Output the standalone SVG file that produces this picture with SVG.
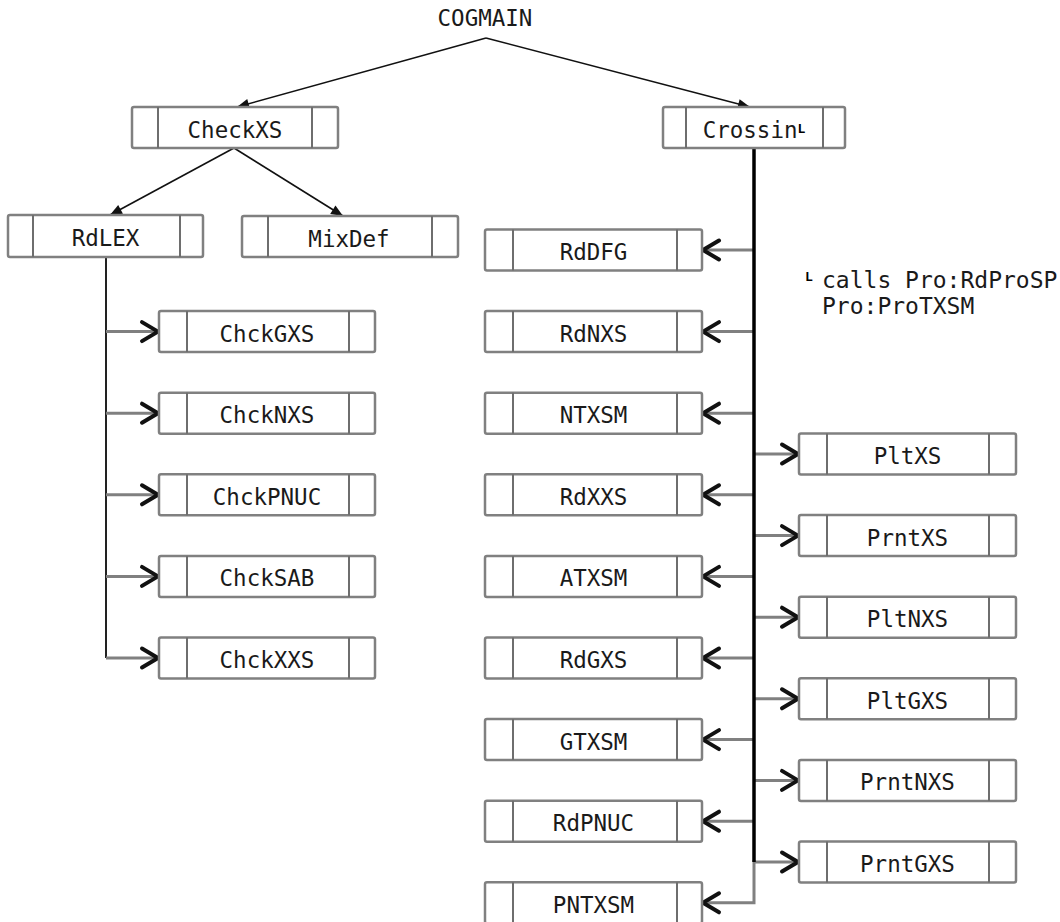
<svg xmlns="http://www.w3.org/2000/svg" width="1060" height="922" viewBox="0 0 1060 922">
<defs>
<style>
.box rect{fill:#fff;stroke:#808080;stroke-width:2.5}
.box line{stroke:#6e6e6e;stroke-width:2}
.lbl{font-family:"DejaVu Sans Mono","Liberation Mono",monospace;font-size:22.5px;fill:#1a1a1a;text-anchor:middle}
.note{font-family:"DejaVu Sans Mono","Liberation Mono",monospace;font-size:23px;fill:#1a1a1a}
.mark{font-size:13px;font-weight:bold;fill:#000}
.tree{stroke:#111;stroke-width:1.6;fill:none}
.vert{stroke:#222;stroke-width:2;fill:none}
.hook{stroke:#808080;stroke-width:3;fill:none}
.trunk{stroke:#000;stroke-width:3.5;fill:none}
marker{overflow:visible}
</style>
<marker id="chev" viewBox="0 0 22 22" refX="20" refY="11" markerWidth="22" markerHeight="22" markerUnits="userSpaceOnUse" orient="auto">
<path d="M3,1.5 L19,11 L3,20.5" fill="none" stroke="#111" stroke-width="4" stroke-linejoin="round" stroke-linecap="round"/>
</marker>
<marker id="tri" viewBox="0 0 12 10" refX="12" refY="5" markerWidth="12" markerHeight="10" markerUnits="userSpaceOnUse" orient="auto">
<path d="M0,0 L12,5 L0,10 z" fill="#111"/>
</marker>
</defs>
<rect width="1060" height="922" fill="#fff"/>

<g id="connectors">
<path class="tree" d="M486,38 L237,107" marker-end="url(#tri)"/>
<path class="tree" d="M486,38 L750,107" marker-end="url(#tri)"/>
<path class="tree" d="M234,148 L110,215" marker-end="url(#tri)"/>
<path class="tree" d="M234,148 L343,216" marker-end="url(#tri)"/>
<path class="vert" d="M106,257 V658"/>
<path class="hook" d="M106,331.6 H159" marker-end="url(#chev)"/>
<path class="hook" d="M106,413.2 H159" marker-end="url(#chev)"/>
<path class="hook" d="M106,494.8 H159" marker-end="url(#chev)"/>
<path class="hook" d="M106,576.4 H159" marker-end="url(#chev)"/>
<path class="hook" d="M106,658 H159" marker-end="url(#chev)"/>
<path class="hook" d="M754,250 H702" marker-end="url(#chev)"/>
<path class="hook" d="M754,331.6 H702" marker-end="url(#chev)"/>
<path class="hook" d="M754,413.2 H702" marker-end="url(#chev)"/>
<path class="hook" d="M754,494.8 H702" marker-end="url(#chev)"/>
<path class="hook" d="M754,576.4 H702" marker-end="url(#chev)"/>
<path class="hook" d="M754,658 H702" marker-end="url(#chev)"/>
<path class="hook" d="M754,739.6 H702" marker-end="url(#chev)"/>
<path class="hook" d="M754,821.2 H702" marker-end="url(#chev)"/>
<path class="hook" d="M754,860 V902.8 H702" marker-end="url(#chev)"/>
<path class="hook" d="M754,454 H799" marker-end="url(#chev)"/>
<path class="hook" d="M754,535.6 H799" marker-end="url(#chev)"/>
<path class="hook" d="M754,617.2 H799" marker-end="url(#chev)"/>
<path class="hook" d="M754,698.8 H799" marker-end="url(#chev)"/>
<path class="hook" d="M754,780.4 H799" marker-end="url(#chev)"/>
<path class="hook" d="M754,862 H799" marker-end="url(#chev)"/>
<path class="trunk" d="M754,148 V862"/>
</g>

<g id="n-COGMAIN"><text class="lbl" x="485" y="26">COGMAIN</text></g>

<g id="n-CheckXS" class="box"><rect x="132" y="107" width="206" height="41" rx="2"/><line x1="158" y1="107" x2="158" y2="148"/><line x1="312" y1="107" x2="312" y2="148"/><text class="lbl" x="235" y="137.5">CheckXS</text></g>
<g id="n-Crossin" class="box"><rect x="663" y="107" width="182" height="41" rx="2"/><line x1="686" y1="107" x2="686" y2="148"/><line x1="823" y1="107" x2="823" y2="148"/><text class="lbl" x="754" y="137.5">Crossin<tspan class="mark" dy="-5">L</tspan></text></g>
<g id="n-RdLEX" class="box"><rect x="8" y="215" width="195" height="42" rx="2"/><line x1="33" y1="215" x2="33" y2="257"/><line x1="180" y1="215" x2="180" y2="257"/><text class="lbl" x="105.5" y="246">RdLEX</text></g>
<g id="n-MixDef" class="box"><rect x="242" y="216" width="216" height="41" rx="2"/><line x1="268" y1="216" x2="268" y2="257"/><line x1="432" y1="216" x2="432" y2="257"/><text class="lbl" x="349" y="246.5">MixDef</text></g>

<g id="n-ChckGXS" class="box"><rect x="159" y="311.1" width="216" height="41" rx="2"/><line x1="187" y1="311.1" x2="187" y2="352.1"/><line x1="349" y1="311.1" x2="349" y2="352.1"/><text class="lbl" x="267" y="341.6">ChckGXS</text></g>
<g id="n-ChckNXS" class="box"><rect x="159" y="392.7" width="216" height="41" rx="2"/><line x1="187" y1="392.7" x2="187" y2="433.7"/><line x1="349" y1="392.7" x2="349" y2="433.7"/><text class="lbl" x="267" y="423.2">ChckNXS</text></g>
<g id="n-ChckPNUC" class="box"><rect x="159" y="474.3" width="216" height="41" rx="2"/><line x1="187" y1="474.3" x2="187" y2="515.3"/><line x1="349" y1="474.3" x2="349" y2="515.3"/><text class="lbl" x="267" y="504.8">ChckPNUC</text></g>
<g id="n-ChckSAB" class="box"><rect x="159" y="555.9" width="216" height="41" rx="2"/><line x1="187" y1="555.9" x2="187" y2="596.9"/><line x1="349" y1="555.9" x2="349" y2="596.9"/><text class="lbl" x="267" y="586.4">ChckSAB</text></g>
<g id="n-ChckXXS" class="box"><rect x="159" y="637.5" width="216" height="41" rx="2"/><line x1="187" y1="637.5" x2="187" y2="678.5"/><line x1="349" y1="637.5" x2="349" y2="678.5"/><text class="lbl" x="267" y="668">ChckXXS</text></g>

<g id="n-RdDFG" class="box"><rect x="485" y="229.5" width="217" height="41" rx="2"/><line x1="513" y1="229.5" x2="513" y2="270.5"/><line x1="677" y1="229.5" x2="677" y2="270.5"/><text class="lbl" x="593.5" y="260">RdDFG</text></g>
<g id="n-RdNXS" class="box"><rect x="485" y="311.1" width="217" height="41" rx="2"/><line x1="513" y1="311.1" x2="513" y2="352.1"/><line x1="677" y1="311.1" x2="677" y2="352.1"/><text class="lbl" x="593.5" y="341.6">RdNXS</text></g>
<g id="n-NTXSM" class="box"><rect x="485" y="392.7" width="217" height="41" rx="2"/><line x1="513" y1="392.7" x2="513" y2="433.7"/><line x1="677" y1="392.7" x2="677" y2="433.7"/><text class="lbl" x="593.5" y="423.2">NTXSM</text></g>
<g id="n-RdXXS" class="box"><rect x="485" y="474.3" width="217" height="41" rx="2"/><line x1="513" y1="474.3" x2="513" y2="515.3"/><line x1="677" y1="474.3" x2="677" y2="515.3"/><text class="lbl" x="593.5" y="504.8">RdXXS</text></g>
<g id="n-ATXSM" class="box"><rect x="485" y="555.9" width="217" height="41" rx="2"/><line x1="513" y1="555.9" x2="513" y2="596.9"/><line x1="677" y1="555.9" x2="677" y2="596.9"/><text class="lbl" x="593.5" y="586.4">ATXSM</text></g>
<g id="n-RdGXS" class="box"><rect x="485" y="637.5" width="217" height="41" rx="2"/><line x1="513" y1="637.5" x2="513" y2="678.5"/><line x1="677" y1="637.5" x2="677" y2="678.5"/><text class="lbl" x="593.5" y="668">RdGXS</text></g>
<g id="n-GTXSM" class="box"><rect x="485" y="719.1" width="217" height="41" rx="2"/><line x1="513" y1="719.1" x2="513" y2="760.1"/><line x1="677" y1="719.1" x2="677" y2="760.1"/><text class="lbl" x="593.5" y="749.6">GTXSM</text></g>
<g id="n-RdPNUC" class="box"><rect x="485" y="800.7" width="217" height="41" rx="2"/><line x1="513" y1="800.7" x2="513" y2="841.7"/><line x1="677" y1="800.7" x2="677" y2="841.7"/><text class="lbl" x="593.5" y="831.2">RdPNUC</text></g>
<g id="n-PNTXSM" class="box"><rect x="485" y="882.3" width="217" height="41" rx="2"/><line x1="513" y1="882.3" x2="513" y2="923.3"/><line x1="677" y1="882.3" x2="677" y2="923.3"/><text class="lbl" x="593.5" y="912.8">PNTXSM</text></g>

<g id="n-PltXS" class="box"><rect x="799" y="433.5" width="217" height="41" rx="2"/><line x1="827" y1="433.5" x2="827" y2="474.5"/><line x1="989" y1="433.5" x2="989" y2="474.5"/><text class="lbl" x="907.5" y="464">PltXS</text></g>
<g id="n-PrntXS" class="box"><rect x="799" y="515.1" width="217" height="41" rx="2"/><line x1="827" y1="515.1" x2="827" y2="556.1"/><line x1="989" y1="515.1" x2="989" y2="556.1"/><text class="lbl" x="907.5" y="545.6">PrntXS</text></g>
<g id="n-PltNXS" class="box"><rect x="799" y="596.7" width="217" height="41" rx="2"/><line x1="827" y1="596.7" x2="827" y2="637.7"/><line x1="989" y1="596.7" x2="989" y2="637.7"/><text class="lbl" x="907.5" y="627.2">PltNXS</text></g>
<g id="n-PltGXS" class="box"><rect x="799" y="678.3" width="217" height="41" rx="2"/><line x1="827" y1="678.3" x2="827" y2="719.3"/><line x1="989" y1="678.3" x2="989" y2="719.3"/><text class="lbl" x="907.5" y="708.8">PltGXS</text></g>
<g id="n-PrntNXS" class="box"><rect x="799" y="759.9" width="217" height="41" rx="2"/><line x1="827" y1="759.9" x2="827" y2="800.9"/><line x1="989" y1="759.9" x2="989" y2="800.9"/><text class="lbl" x="907.5" y="790.4">PrntNXS</text></g>
<g id="n-PrntGXS" class="box"><rect x="799" y="841.5" width="217" height="41" rx="2"/><line x1="827" y1="841.5" x2="827" y2="882.5"/><line x1="989" y1="841.5" x2="989" y2="882.5"/><text class="lbl" x="907.5" y="872">PrntGXS</text></g>

<g id="footnote">
<text class="note" x="805" y="281"><tspan class="mark">L</tspan></text>
<text class="note" x="822" y="288">calls Pro:RdProSP</text>
<text class="note" x="822" y="314">Pro:ProTXSM</text>
</g>
</svg>
